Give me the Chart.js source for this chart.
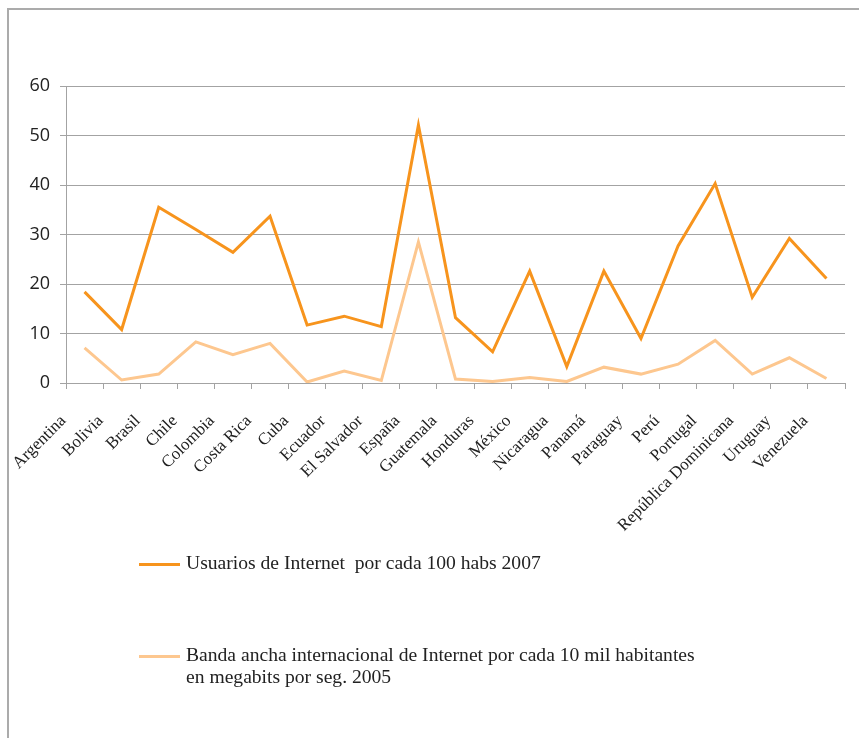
<!DOCTYPE html>
<html>
<head>
<meta charset="utf-8">
<script src="https://cdn.jsdelivr.net/npm/chart.js@4.4.1/dist/chart.umd.min.js"></script>
<style>
    html, body { margin: 0; padding: 0; background: #fff; overflow: hidden; }
    .frame {
        position: absolute; left: 7px; top: 8px; width: 900px; height: 800px;
        border-top: 2px solid #ababab; border-left: 2px solid #ababab;
    }
    .wrap { position: absolute; left: 0; top: 0; width: 859px; height: 738px; }
    .legend { position: absolute; left: 139px; top: 0; font-family: "Liberation Serif", serif; font-size: 19.6px; color: #222; }
    .legend-item { position: absolute; left: 0; display: flex; align-items: flex-start; white-space: pre; }
    .legend-line { width: 41px; height: 3px; margin-top: 11px; margin-right: 6px; flex: none; }
    .legend-text { line-height: 22px; }
</style>
</head>
<body>
<div class="frame"></div>
<div class="wrap"><canvas id="chart" width="859" height="738"></canvas></div>
<div class="legend" id="legend"></div>
<script>
// ===== DATA =====
const paises = ['Argentina', 'Bolivia', 'Brasil', 'Chile', 'Colombia', 'Costa Rica', 'Cuba', 'Ecuador',
    'El Salvador', 'España', 'Guatemala', 'Honduras', 'México', 'Nicaragua', 'Panamá', 'Paraguay',
    'Perú', 'Portugal', 'República Dominicana', 'Uruguay', 'Venezuela'];

const usuarios = [18.4, 10.8, 35.5, 31.0, 26.4, 33.7, 11.7, 13.5, 11.4, 52.1, 13.2,
    6.3, 22.6, 3.3, 22.6, 9.0, 27.7, 40.3, 17.3, 29.2, 21.1];

const banda = [7.1, 0.6, 1.8, 8.3, 5.7, 8.0, 0.2, 2.4, 0.5, 28.5, 0.8,
    0.3, 1.1, 0.3, 3.2, 1.8, 3.8, 8.6, 1.8, 5.1, 0.9];

const labelUsuarios = 'Usuarios de Internet  por cada 100 habs 2007';
const labelBanda = 'Banda ancha internacional de Internet por cada 10 mil habitantes\nen megabits por seg. 2005';

const gridColor = '#a3a3a3';

// ===== CHART =====
const ctx = document.getElementById('chart').getContext('2d');

new Chart(ctx, {
    type: 'line',
    data: {
        labels: paises,
        datasets: [{
            label: labelUsuarios,
            data: usuarios,
            borderColor: '#f7941d',
            borderWidth: 3,
            pointRadius: 0,
            tension: 0,
        }, {
            label: labelBanda,
            data: banda,
            borderColor: '#fdc78f',
            borderWidth: 3,
            pointRadius: 0,
            tension: 0,
        }]
    },
    options: {
        responsive: false,
        animation: false,
        layout: { padding: { top: 86, left: 0, right: 14, bottom: 0 } },
        plugins: {
            legend: { display: false },
            tooltip: { enabled: false }
        },
        scales: {
            x: {
                offset: true,
                grid: {
                    offset: true,
                    drawOnChartArea: false,
                    color: gridColor,
                    tickLength: 6
                },
                border: { color: gridColor },
                ticks: {
                    autoSkip: false,
                    maxRotation: 45,
                    minRotation: 45,
                    labelOffset: -21,
                    padding: 22,
                    color: '#222',
                    font: { family: '"Liberation Serif", serif', size: 17 }
                },
                afterFit: (scale) => {
                    scale.height = 355;
                    scale.paddingLeft = 0;
                    scale.paddingRight = 0;
                }
            },
            y: {
                min: 0,
                max: 60,
                grid: { color: gridColor, tickLength: 6 },
                border: { color: gridColor },
                ticks: {
                    stepSize: 10,
                    padding: 10,
                    color: '#222',
                    font: { family: '"Open Sans", sans-serif', size: 18 }
                },
                afterFit: (scale) => { scale.width = 66; }
            }
        }
    }
});

// ===== LEGEND =====
const legendEl = document.getElementById('legend');
const legendItems = [
    { text: labelUsuarios, color: '#f7941d', top: 552 },
    { text: labelBanda, color: '#fdc78f', top: 644 }
];
legendItems.forEach(d => {
    legendEl.innerHTML += `
        <div class="legend-item" style="top:${d.top}px">
            <div class="legend-line" style="background:${d.color}"></div>
            <div class="legend-text">${d.text}</div>
        </div>
    `;
});
</script>
</body>
</html>
